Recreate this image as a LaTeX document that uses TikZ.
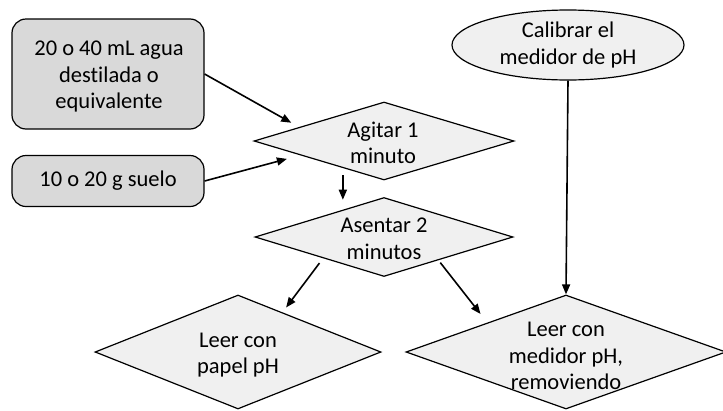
\documentclass[tikz,border=0pt]{standalone}
\usepackage{fontspec}
\setmainfont[Ligatures=NoCommon]{Carlito}
\usetikzlibrary{shapes.geometric,arrows.meta,calc}

\definecolor{boxfill}{HTML}{D9D9D9}
\definecolor{shapefill}{HTML}{F0F0F0}

\tikzset{
  stepbox/.style={draw=black, line width=1.2pt, fill=boxfill, rounded corners=14pt,
    inner sep=0pt},
  decision/.style={diamond, draw=black, line width=1.2pt, fill=shapefill,
    inner sep=0pt, shape aspect=1},
  startnode/.style={ellipse, draw=black, line width=1.2pt, fill=shapefill, inner sep=0pt},
  label/.style={align=center, inner sep=0pt, font=\fontsize{22.5}{26.5}\selectfont},
  arr/.style={line width=1.6pt, -{Triangle[length=10pt,width=8pt]}}
}

\begin{document}
\begin{tikzpicture}[x=1pt, y=-1pt]
  \useasboundingbox (0,0) rectangle (723,410);

  % inputs
  \node[stepbox, minimum width=192pt, minimum height=110pt] (b1) at (108,74) {};
  \node[label] (t1) at (109,77) {20 o 40 mL agua\\destilada o\\equivalente};
  \node[stepbox, minimum width=192pt, minimum height=51pt] (b2) at (108,181) {};
  \node[label] (t2) at (b2.center) {10 o 20 g suelo};

  % calibration
  \node[startnode, minimum width=232pt, minimum height=70pt] (cal) at (568,45) {};
  \node[label] (t3) at (cal.center) {Calibrar el\\medidor de pH};

  % process steps
  \node[decision, minimum width=260pt, minimum height=78pt] (agi) at (384,141) {};
  \node[label] (t4) at (383,143) {Agitar 1\\minuto};
  \node[decision, minimum width=258pt, minimum height=79pt] (ase) at (384,237) {};
  \node[label] (t5) at (384,239) {Asentar 2\\minutos};
  \node[decision, minimum width=286pt, minimum height=114pt] (pap) at (238,352) {};
  \node[label] (t6) at (238,355) {Leer con\\papel pH};
  \node[decision, minimum width=320pt, minimum height=114pt] (med) at (566,352) {};
  \node[label] (t7) at (566,356) {Leer con\\medidor pH,\\removiendo};

  % connector end points on the diamond edges
  \coordinate (a1) at ($(agi.west)!0.35!(agi.north)$);
  \coordinate (a2) at ($(agi.west)!0.36!(agi.south)$);
  \coordinate (a3) at ($(agi.west)!0.685!(agi.south)$);
  \coordinate (s1) at ($(ase.west)!0.68!(ase.north)$);
  \coordinate (s2) at ($(ase.west)!0.53!(ase.south)$);
  \coordinate (s3) at ($(ase.south)!0.42!(ase.east)$);
  \coordinate (p1) at ($(pap.north)!0.31!(pap.east)$);
  \coordinate (m1) at ($(med.west)!0.51!(med.north)$);

  % connectors
  \draw[arr, shorten >=9pt] (b1.east) -- (a1);
  \draw[arr, shorten >=14pt] (b2.east) -- (a2);
  \draw[arr, shorten <=7pt, shorten >=10pt] (a3) -- (a3 |- s1);
  \draw[arr, shorten <=6pt, shorten >=6pt] (s2) -- (p1);
  \draw[arr, shorten <=3pt, shorten >=11pt] (s3) -- (m1);
  \draw[arr] (cal.south) -- (med.north);
\end{tikzpicture}
\end{document}
